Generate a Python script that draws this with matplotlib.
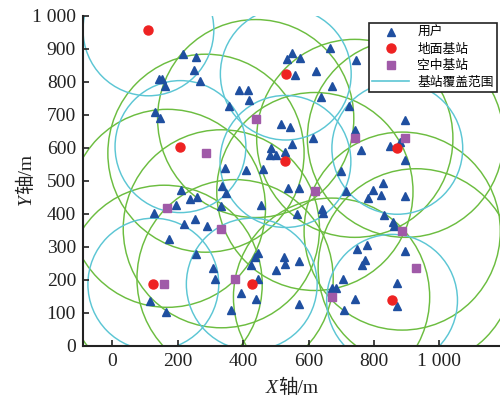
import matplotlib
matplotlib.use("Agg")
import matplotlib.pyplot as plt
from matplotlib.patches import Circle
from matplotlib.lines import Line2D

plt.rcParams['font.family'] = ['Liberation Serif', 'Noto Sans CJK SC']

# User equipment positions (m)
user_x = [216, 255, 249, 143, 151, 162, 267, 131, 145,
          548, 535, 574, 558, 621, 666, 744, 670, 638, 724,
          387, 416, 419, 355, 515, 544, 612, 548, 485, 482, 500, 528,
          741, 761, 700, 461, 408, 345,
          896, 848, 880, 894, 827, 797, 781, 820, 894, 829, 858, 860,
          778, 748, 771, 763, 896, 871, 870,
          209, 335, 348, 194, 237, 259, 128, 220, 252, 288, 331, 174,
          257, 306, 313, 115, 163,
          536, 570, 713, 455, 565, 642, 644, 446, 435, 423, 525, 527,
          569, 499, 446, 392, 440, 363, 569, 705, 670, 685, 741, 707]
user_y = [883, 876, 835, 808, 807, 787, 803, 709, 689,
          887, 868, 873, 820, 833, 901, 866, 787, 753, 725,
          775, 776, 744, 727, 673, 662, 630, 612, 599, 578, 577, 588,
          654, 593, 529, 535, 532, 538,
          683, 606, 616, 563, 493, 472, 448, 456, 452, 396, 376, 362,
          306, 293, 260, 244, 287, 189, 120,
          472, 485, 463, 426, 444, 450, 403, 369, 384, 363, 423, 323,
          278, 236, 202, 135, 101,
          478, 478, 468, 427, 398, 413, 402, 282, 267, 245, 268, 247,
          257, 229, 201, 158, 141, 108, 125, 203, 175, 174, 141, 108]

# Ground base stations (m)
ground_x = [110, 208, 125, 426, 530, 529, 871, 855]
ground_y = [957, 603, 186, 186, 823, 558, 598, 137]
ground_radius = 200

# Aerial base stations (m)
air_x = [168, 158, 286, 333, 375, 438, 619, 670, 741, 886, 896, 929]
air_y = [416, 186, 583, 354, 203, 688, 467, 147, 628, 347, 628, 236]
air_radius = 300

xticks = [0, 200, 400, 600, 800, 1000]
xtick_labels = ['0', '200', '400', '600', '800', '1 000']
yticks = [0, 100, 200, 300, 400, 500, 600, 700, 800, 900, 1000]
ytick_labels = ['0', '100', '200', '300', '400', '500', '600', '700',
                '800', '900', '1 000']

c_user = '#1f4fa0'
c_ground = '#ee2222'
c_air = '#a05aa8'
c_cover_ground = '#5cc6d4'
c_cover_air = '#6cbd40'
c_text = '#222222'

fig = plt.figure(figsize=(5, 4), dpi=100)
ax = fig.add_axes([0.166, 0.136, 0.834, 0.825])

for x, y in zip(air_x, air_y):
    ax.add_patch(Circle((x, y), air_radius, fill=False, ec=c_cover_air,
                        lw=1.05, zorder=1))
for x, y in zip(ground_x, ground_y):
    ax.add_patch(Circle((x, y), ground_radius, fill=False, ec=c_cover_ground,
                        lw=1.05, zorder=1))

ax.plot(user_x, user_y, ls='none', marker='^', ms=6, color=c_user,
        mec=c_user, zorder=3)
ax.plot(ground_x, ground_y, ls='none', marker='o', ms=6.5, color=c_ground,
        mec=c_ground, zorder=3)
ax.plot(air_x, air_y, ls='none', marker='s', ms=5.5, color=c_air,
        mec=c_air, zorder=3)

ax.set_xlim(-90, 1185)
ax.set_ylim(0, 1000)
ax.set_xticks(xticks)
ax.set_xticklabels(xtick_labels)
ax.set_yticks(yticks)
ax.set_yticklabels(ytick_labels)
ax.tick_params(direction='in', length=4, width=1.2, labelsize=14,
               colors=c_text, pad=5)
ax.tick_params(axis='x', pad=5)

for side in ('top', 'right'):
    ax.spines[side].set_visible(False)
for side in ('left', 'bottom'):
    ax.spines[side].set_linewidth(1.5)
    ax.spines[side].set_color(c_text)

# Axis titles: italic variable letter followed by the CJK word and unit
lab_fs = 14
xl = fig.text(0.556, 0.018, 'X', fontsize=lab_fs, style='italic',
              color=c_text, ha='right', va='baseline')
ax.annotate('轴/m', xy=(1, 0), xycoords=xl, ha='left', va='bottom',
            fontsize=lab_fs, color=c_text)
yl = fig.text(0.07, 0.487, 'Y', fontsize=lab_fs, style='italic',
              color=c_text, rotation=90, ha='right', va='bottom')
ax.annotate('轴/m', xy=(1, 1), xycoords=yl, ha='right', va='bottom',
            fontsize=lab_fs, color=c_text, rotation=90)

handles = [
    Line2D([], [], ls='none', marker='^', ms=6, color=c_user),
    Line2D([], [], ls='none', marker='o', ms=6.5, color=c_ground),
    Line2D([], [], ls='none', marker='s', ms=5.5, color=c_air),
    Line2D([], [], color=c_cover_ground, lw=1.2),
]
labels = ['用户', '地面基站', '空中基站', '基站覆盖范围']
leg = ax.legend(handles, labels, loc='upper right', bbox_to_anchor=(1.0, 0.985),
                fontsize=9.2, frameon=True, fancybox=False, framealpha=1,
                edgecolor=c_text, handlelength=2.9, handletextpad=0.6,
                borderpad=0.3, labelspacing=0.35, borderaxespad=0.2)
leg.get_frame().set_linewidth(1.2)
leg.set_zorder(5)

fig.savefig('out.png', dpi=100)
